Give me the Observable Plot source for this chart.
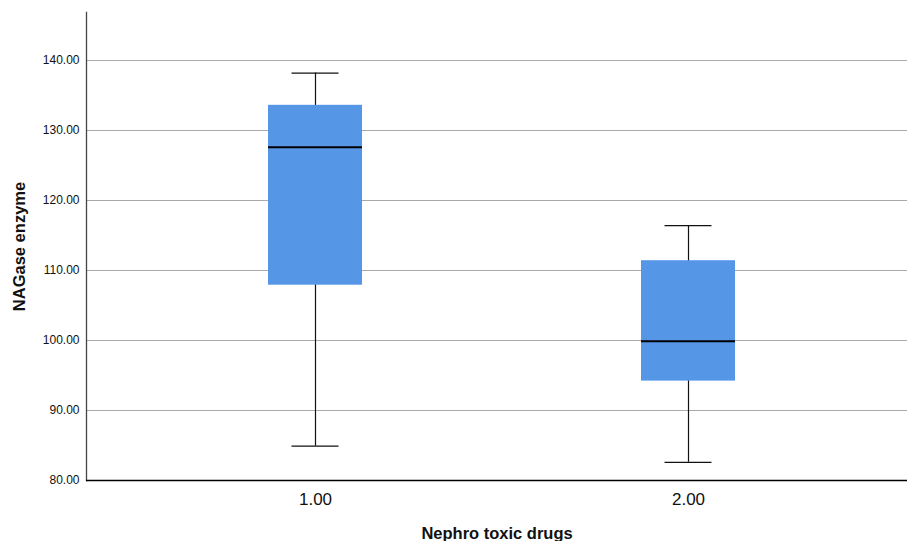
<!DOCTYPE html>
<html>
<head>
<meta charset="utf-8">
<script src="https://cdn.jsdelivr.net/npm/d3@7"></script>
<script src="https://cdn.jsdelivr.net/npm/@observablehq/plot@0.6"></script>
<style>
  html, body { margin: 0; padding: 0; background: #fff; }
  #chart svg { display: block; }
</style>
</head>
<body>
<div id="chart"></div>
<script>
const groups = ["1.00", "2.00"];
const whiskerLow = [84.9, 82.6];
const q1 = [107.9, 94.2];
const median = [127.6, 99.9];
const q3 = [133.6, 111.4];
const whiskerHigh = [138.2, 116.4];
const yTicks = [80, 90, 100, 110, 120, 130, 140];
const xTitle = "Nephro toxic drugs";
const yTitle = "NAGase enzyme";

const data = groups.map((g, i) => ({
  g, lo: whiskerLow[i], q1: q1[i], med: median[i], q3: q3[i], hi: whiskerHigh[i]
}));

const chart = Plot.plot({
  width: 907,
  height: 541,
  marginTop: 12,
  marginBottom: 61,
  marginLeft: 86,
  marginRight: 0,
  style: { fontFamily: "'Liberation Sans', Arial, Helvetica, sans-serif", background: "#fff" },
  x: { domain: groups, type: "band", paddingInner: 0.7487, paddingOuter: 0.472, align: 0.513 },
  y: { domain: [80, 146.86] },
  marks: [
    Plot.gridY(yTicks.slice(1), { stroke: "#aaa", strokeOpacity: 1, strokeWidth: 1 }),
    Plot.axisY(yTicks, { tickSize: 0, tickPadding: 7, fontSize: 12, fill: "#111", tickFormat: d => d.toFixed(2), label: null }),
    Plot.axisX({ tickSize: 0, tickPadding: 12, fontSize: 17, fill: "#111", label: null }),
    Plot.frame({ anchor: "left", stroke: "#444", strokeWidth: 1.3 }),
    Plot.ruleY([80], { stroke: "#000", strokeWidth: 1.3 }),
    Plot.ruleX(data, { x: "g", y1: "lo", y2: "hi", stroke: "#111", strokeWidth: 1.2 }),
    Plot.tickY(data, { x: "g", y: "lo", stroke: "#111", strokeWidth: 1.2, insetLeft: 23.5, insetRight: 23.5 }),
    Plot.tickY(data, { x: "g", y: "hi", stroke: "#111", strokeWidth: 1.2, insetLeft: 23.5, insetRight: 23.5 }),
    Plot.barY(data, { x: "g", y1: "q1", y2: "q3", fill: "#5596e6" }),
    Plot.tickY(data, { x: "g", y: "med", stroke: "#000", strokeWidth: 2 }),
    Plot.text([xTitle], { frameAnchor: "bottom", dy: 53, fontSize: 16.5, fontWeight: "bold", fill: "#111", lineAnchor: "middle", textAnchor: "middle" }),
    Plot.text([yTitle], { frameAnchor: "left", dx: -67, rotate: -90, fontSize: 16.5, fontWeight: "bold", fill: "#111", lineAnchor: "middle", textAnchor: "middle" })
  ]
});
document.getElementById("chart").appendChild(chart);
</script>
</body>
</html>
